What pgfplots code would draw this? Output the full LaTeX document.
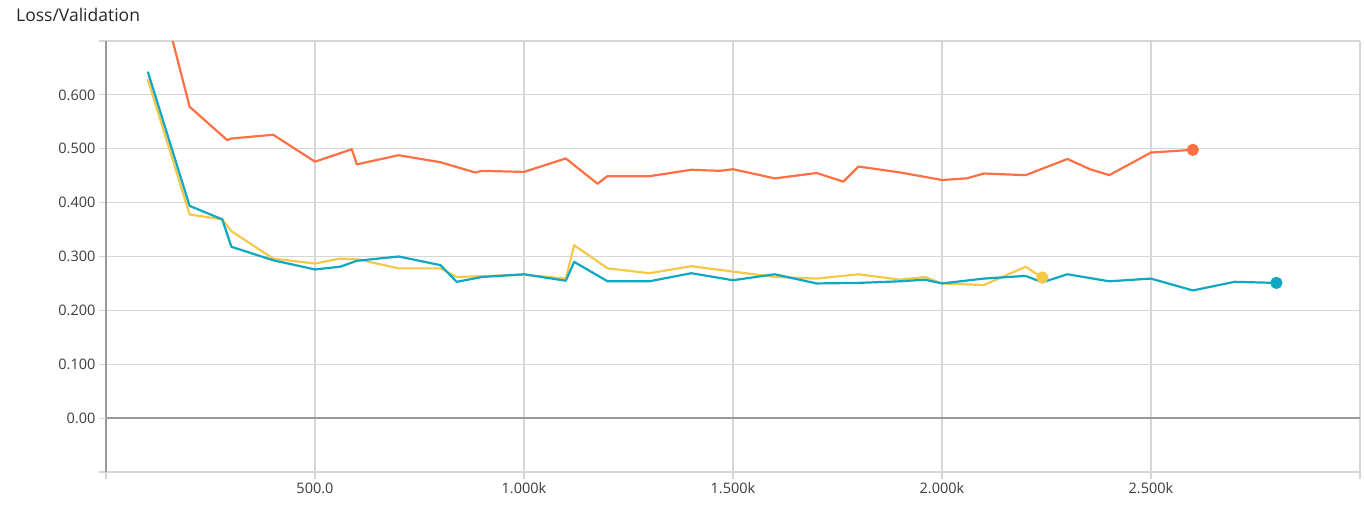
\documentclass[border=0pt]{standalone}
\usepackage{fontspec}
\setmainfont{Open Sans}
\usepackage{pgfplots}
\pgfplotsset{compat=1.18}

\definecolor{runorange}{HTML}{FF7043}
\definecolor{runcyan}{HTML}{0EA8C2}
\definecolor{runyellow}{HTML}{F6C84A}
\definecolor{gridgray}{HTML}{D6D6D6}
\definecolor{axisgray}{HTML}{999999}
\definecolor{labelgray}{HTML}{3C3C3C}

\begin{document}
\begin{tikzpicture}
\path[use as bounding box] (0,0) rectangle (1364pt,506pt);
\node[anchor=base west, font=\fontsize{17.5}{20}\selectfont, text=black!85, inner sep=0pt]
  at (16pt,484pt) {Loss/Validation};
\begin{axis}[
    at={(106pt,34pt)}, anchor=south west,
    width=1254pt, height=431pt, scale only axis,
    xmin=0, xmax=3000, ymin=-0.1, ymax=0.7,
    axis lines*=left,
    x axis line style={draw=gridgray, line width=1pt},
    y axis line style={draw=axisgray, line width=1.6pt},
    grid=major,
    major grid style={draw=gridgray, line width=1.2pt},
    xtick={0,500,1000,1500,2000,2500,3000},
    xticklabels={,500.0,1.000k,1.500k,2.000k,2.500k,},
    ytick={-0.1,0,0.1,0.2,0.3,0.4,0.5,0.6,0.7},
    yticklabels={,0.00,0.100,0.200,0.300,0.400,0.500,0.600,},
    extra y ticks={0},
    extra y tick labels={},
    extra tick style={major grid style={draw=axisgray, line width=1.8pt}},
    tick align=outside,
    major tick length=7pt,
    tick style={draw=gridgray, line width=1.2pt},
    ticklabel style={font=\fontsize{14.5}{16}\selectfont, text=labelgray},
    /pgf/number format/assume math mode=true,
    every axis plot/.append style={line width=2.2pt, line join=round},
  ]
  \addplot[runorange, mark=none] coordinates {
    (100,0.880) (200,0.578) (290,0.516) (300,0.519) (400,0.526) (500,0.476)
    (588,0.499) (600,0.471) (700,0.488) (800,0.475) (883,0.456) (899,0.459)
    (1000,0.457) (1100,0.482) (1176,0.435) (1199,0.449) (1300,0.449)
    (1400,0.461) (1469,0.459) (1500,0.462) (1600,0.445) (1700,0.455)
    (1764,0.439) (1800,0.467) (1900,0.456) (2000,0.442) (2059,0.445)
    (2100,0.454) (2200,0.451) (2300,0.481) (2354,0.462) (2400,0.451)
    (2500,0.493) (2600,0.498)
  };
  \addplot[runorange, only marks, mark=*, mark size=5pt] coordinates {(2600,0.498)};
  \addplot[runyellow, mark=none] coordinates {
    (100,0.629) (200,0.378) (278,0.369) (300,0.347) (400,0.296) (500,0.287)
    (560,0.296) (600,0.295) (700,0.278) (800,0.278) (839,0.262) (1000,0.266)
    (1100,0.259) (1120,0.321) (1200,0.278) (1300,0.269) (1400,0.282)
    (1500,0.272) (1600,0.262) (1700,0.259) (1800,0.267) (1900,0.257)
    (1959,0.262) (2000,0.250) (2100,0.247) (2200,0.281) (2240,0.261)
  };
  \addplot[runyellow, only marks, mark=*, mark size=5pt] coordinates {(2240,0.261)};
  \addplot[runcyan, mark=none] coordinates {
    (100,0.643) (200,0.394) (278,0.369) (300,0.318) (400,0.293) (500,0.276)
    (560,0.281) (600,0.292) (700,0.300) (800,0.284) (839,0.253) (900,0.262)
    (1000,0.267) (1100,0.255) (1120,0.290) (1200,0.254) (1300,0.254)
    (1400,0.269) (1500,0.256) (1600,0.267) (1700,0.250) (1800,0.251)
    (1900,0.254) (1959,0.257) (2000,0.250) (2100,0.259) (2200,0.264)
    (2240,0.252) (2300,0.267) (2400,0.254) (2500,0.259) (2600,0.237)
    (2700,0.253) (2800,0.251)
  };
  \addplot[runcyan, only marks, mark=*, mark size=5pt] coordinates {(2800,0.251)};
\end{axis}
\end{tikzpicture}
\end{document}
